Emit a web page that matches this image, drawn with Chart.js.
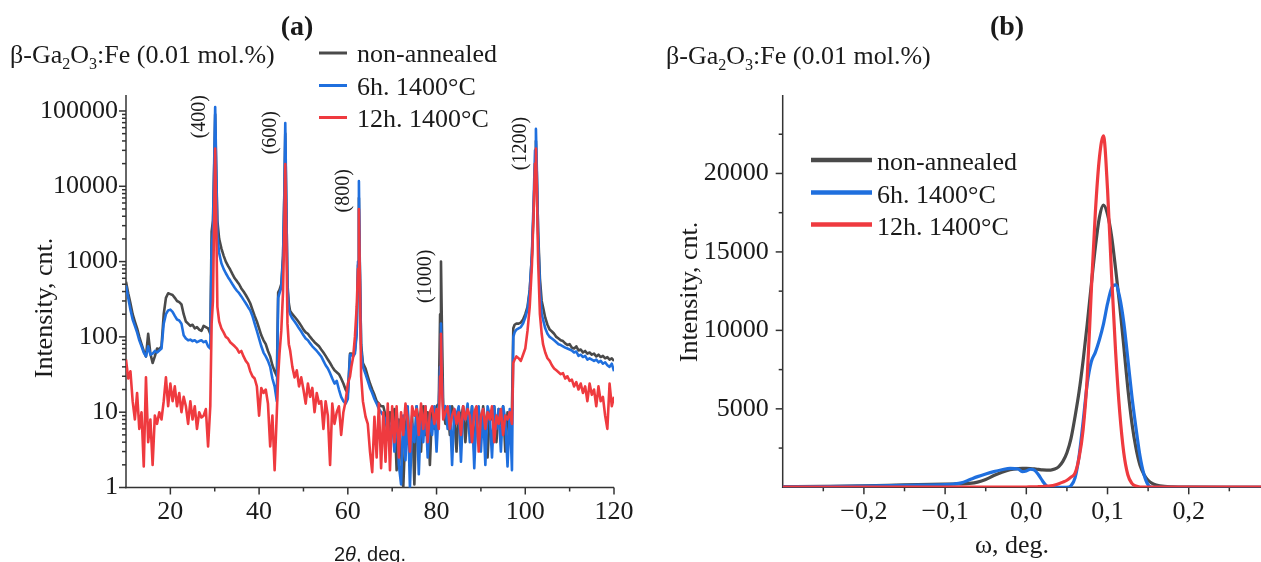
<!DOCTYPE html>
<html><head><meta charset="utf-8"><title>β-Ga2O3:Fe XRD</title>
<script src="https://cdn.jsdelivr.net/npm/chart.js@4.4.1/dist/chart.umd.min.js"></script>
<style>
html,body{margin:0;padding:0;background:#fff;}
body{width:1261px;height:562px;position:relative;overflow:hidden;}
#ca{position:absolute;left:0;top:0;}
#cb{position:absolute;left:640px;top:0;}
</style></head><body>
<canvas id="ca" width="640" height="562"></canvas>
<canvas id="cb" width="621" height="562"></canvas>
<script>
// ---------- data: panel (a) XRD 2θ scans ----------
const seriesNames = ['non-annealed', '6h. 1400°C', '12h. 1400°C'];

const twoTheta = [
 10,10.5,11,11.5,12,12.5,13,13.5,14,14.5,15,15.5,16,16.5,17,17.5,18,18.5,19,19.5,20,20.5,21,21.5,22,22.5,23,23.5,24,24.5,25,25.5,26,26.5,27,27.5,28,28.5,29,
 29.3,29.6,29.9,30.1,30.3,30.6,31,
 31.5,32,32.5,33,33.5,34,34.5,35,35.5,36,36.5,37,37.5,38,38.5,39,39.5,40,40.5,41,41.5,42,42.5,43,43.5,44,
 44.3,44.6,45,45.4,45.7,45.9,46.1,46.4,46.7,
 47,47.5,48,48.5,49,49.5,50,50.5,51,51.5,52,52.5,53,53.5,54,54.5,55,55.5,56,56.5,57,57.5,58,58.5,59,59.5,60,60.5,
 60.8,61.2,61.6,62,62.3,62.5,62.7,63,63.4,
 64,64.5,65,65.5,66,66.5,67,67.5,68,68.5,69,69.5,70,70.5,71,71.5,72,72.5,73,73.5,74,74.5,75,75.5,76,76.5,77,77.5,78,78.5,79,79.5,80,80.5,
 80.8,81,81.2,
 81.5,82,82.5,83,83.5,84,84.5,85,85.5,86,86.5,87,87.5,88,88.5,89,89.5,90,90.5,91,91.5,92,92.5,93,93.5,94,94.5,95,95.5,96,96.5,97,
 97.3,97.6,98,98.5,99,99.5,100,100.5,101,101.5,101.9,102.2,102.4,102.6,102.9,103.3,103.7,
 104,104.5,105,105.5,106,106.5,107,107.5,108,108.5,109,109.5,110,110.5,111,111.5,112,112.5,113,113.5,114,114.5,115,115.5,116,116.5,117,117.5,118,118.5,119,119.5,120
];

const xrdNonAnnealed = [
 540,380,280,200,160,130,100,80,65,55,110,60,45,55,70,68,75,200,330,380,370,360,330,300,290,270,200,160,150,140,145,130,135,125,120,140,135,130,110,
 2500,3500,20000,90000,20000,3500,2000,
 1500,1200,1000,880,780,680,600,550,500,440,400,360,320,280,230,190,160,130,105,90,80,65,55,42,35,30,
 390,420,500,1200,8000,50000,8000,500,280,
 220,200,185,170,155,140,125,115,110,100,92,85,80,75,68,62,56,50,45,40,36,34,32,28,24,20,18,60,
 60,58,65,120,900,7000,900,80,45,
 38,30,24,20,17,14,13,12,12,9,4.5,10,7,11,1.7,8,3,1.0,6,11,2.5,9,1.1,12,7,3,12,5,10,2,11,6,12,13,
 200,1000,150,
 12,7,11,5,12,9,3,11,8,12,4,10,6,12,3,9,11,5,12,7,2.5,10,8,12,4,11,7,12,3,10,6,11,
 130,145,150,150,155,170,200,250,420,1200,5000,20000,40000,15000,2500,600,300,
 250,180,145,125,118,110,100,95,90,88,82,78,80,72,70,75,66,68,62,65,60,62,58,60,55,58,54,56,52,54,50,52,48
];

const xrd6h = [
 480,330,230,170,140,115,90,75,62,55,75,58,60,65,62,66,70,150,200,225,230,215,190,170,165,150,105,95,90,92,88,90,85,88,90,85,88,75,70,
 1500,2500,25000,113000,25000,2200,1300,
 950,800,700,620,560,500,450,410,380,345,310,280,250,225,190,150,120,95,75,62,55,48,40,28,22,14,
 330,380,450,1100,9000,69300,9000,450,230,
 200,175,160,145,130,118,105,95,90,82,75,70,65,60,55,48,42,38,33,28,24,26,20,16,14,13,15,58,
 58,55,60,110,1000,11700,1000,70,40,
 32,26,21,18,15,13,11,10,9,8,6,5,8,3,11,2,1.1,9,2.3,12,1.0,7,4,12,1.5,10,4,12,2.5,9,5,12,3,12,
 40,150,30,
 11,12,6,12,2,11,9,12,2.2,11,8,13,4,12,1.8,10,12,3,11,2,12,9,2.5,12,6,11,3,12,8,1.9,11,1.7,
 100,115,125,130,135,150,180,230,400,1300,7000,30000,57800,18000,2200,450,200,
 170,130,110,100,95,90,85,80,78,75,72,70,68,66,62,64,56,58,54,56,50,52,50,48,50,46,48,44,46,42,40,44,35
];

const xrd12h = [
 50,28,35,14,8,18,6,10,1.9,29,4,8,2,9,7,10,8,14,29,12,24,14,22,12,18,10,16,12,7,14,8,12,6,10,8.5,9,11,3.5,12,
 150,300,5000,31800,5000,250,160,
 130,115,100,95,85,80,75,70,62,65,55,48,44,35,30,28,22,9,21,18,20,13,3.5,9,1.7,10,
 30,60,120,400,3000,19700,3000,150,80,
 66,40,29,36,22,29,20,13,24,16,21,10,18,13,14,6,14,9,2,13,7,10,12,5,10,14,24,30,
 40,54,100,250,800,5000,700,30,14,
 8.7,7,3,1.6,8.7,2.5,13,1.8,10,2.2,13,1.7,12,4,12,2.5,10,5,13,8,3,12,9,11,5,13,6,12,4,10,12,7,11,6,
 30,110,25,
 8,10,12,6,9,11,7,10,5,12,8,11,9,4,10,12,3,9,11,6,10,8,12,4,9,7,11,5,9,8,10,7,
 45,50,55,52,48,58,70,120,250,900,5000,20000,31600,10000,1000,200,110,
 80,62,52,48,42,38,36,34,32,33,28,30,26,27,22,25,20,24,18,22,14,24,17,20,12,22,14,16,9,6,24,12,16
];

const peakPos = [30.1, 45.9, 62.5, 81, 102.4];
const peakNames = ['(400)', '(600)', '(800)', '(1000)', '(1200)'];
const xTicksA = [20, 40, 60, 80, 100, 120];
const xMinorA = [30, 50, 70, 90, 110];
const yTicksA = [1, 10, 100, 1000, 10000, 100000];

// ---------- data: panel (b) rocking curves ----------
const omega = [
 -0.3,-0.25,-0.2,-0.15,-0.1,-0.09,-0.08,-0.07,-0.06,-0.05,-0.04,-0.03,-0.02,-0.01,-0.005,0,0.005,0.01,0.015,0.02,
 0.025,0.03,0.035,0.04,0.045,0.05,0.055,0.06,0.065,0.07,0.075,0.08,0.085,0.09,0.095,0.1,0.105,0.11,0.115,0.12,
 0.125,0.13,0.135,0.14,0.145,0.15,0.155,0.16,0.17,0.18,0.2,0.25,0.29
];
const rcNonAnnealed = [
 40,60,90,150,200,210,220,250,330,500,750,960,1120,1190,1200,1200,1190,1170,1140,1110,
 1100,1100,1160,1320,1650,2200,3100,4500,6100,8100,10400,12900,15300,17200,17980,17400,16000,13900,11600,9000,
 6300,4100,2500,1400,800,450,250,150,60,30,10,0,0
];
const rc6h = [
 30,50,80,130,180,210,280,480,680,850,1000,1120,1210,1170,1000,1040,1150,1100,800,400,
 80,0,0,0,0,0,100,600,2000,4200,6600,8000,8600,9400,10400,11700,12700,12900,12100,10500,
 8200,5800,3800,2000,800,150,0,0,0,0,0,0,0
];
const rc12h = [
 10,10,10,10,10,20,20,20,20,20,20,20,20,20,20,20,25,30,40,50,
 70,100,150,230,330,450,650,900,1900,3700,7000,12500,17500,21000,22400,19000,13500,8600,4800,2200,
 800,250,80,20,10,10,10,10,10,10,10,10,10
];
const xTicksB = [-0.2, -0.1, 0, 0.1, 0.2];
const xMinorB = [-0.25, -0.15, -0.05, 0.05, 0.15, 0.25];
const yTicksB = [5000, 10000, 15000, 20000];
const yMinorB = [2500, 7500, 12500, 17500, 22500];

// ---------- styling ----------
const GRAY = '#4a4a4a', BLUE = '#1f6fde', RED = '#ef3a3f';
const COLORS = [GRAY, BLUE, RED];
const AXIS = '#333333', TEXT = '#1a1a1a';
const SERIF = '"Liberation Serif", "Times New Roman", serif';
const SANS = '"Liberation Sans", Arial, sans-serif';

const yMinorA = [];
for (let e = 1; e <= 100000; e *= 10) for (let m = 2; m <= 9; m++) if (m * e < 163000) yMinorA.push(m * e);

function drawRuns(ctx, runs, size, family, align, bold) {
  let w = 0;
  const parts = runs.map(r => {
    const fs = r.sub ? size * 0.62 : size;
    const font = (r.italic ? 'italic ' : '') + (bold ? 'bold ' : '') + fs + 'px ' + (r.family || family);
    ctx.font = font;
    const m = ctx.measureText(r.t).width;
    w += m;
    return { r, font, m };
  });
  let cx = align === 'center' ? -w / 2 : 0;
  parts.forEach(p => {
    ctx.font = p.font;
    ctx.fillText(p.r.t, cx, p.r.sub ? size * 0.22 : 0);
    cx += p.m;
  });
}

const axisMarks = {
  id: 'axisMarks',
  beforeDatasetsDraw(chart, args, o) {
    const { ctx, chartArea: a } = chart;
    const x = chart.scales.x, y = chart.scales.y;
    ctx.save();
    ctx.strokeStyle = AXIS; ctx.lineWidth = 1.5;
    const seg = (x1, y1, x2, y2) => { ctx.beginPath(); ctx.moveTo(x1, y1); ctx.lineTo(x2, y2); ctx.stroke(); };
    seg(a.left, a.top, a.left, a.bottom + 0.75);
    seg(a.left - 0.75, a.bottom, a.right, a.bottom);
    o.xMajor.forEach(v => { const p = x.getPixelForValue(v); seg(p, a.bottom, p, a.bottom + 7); });
    o.xMinor.forEach(v => { const p = x.getPixelForValue(v); seg(p, a.bottom, p, a.bottom + 4); });
    o.yMajor.forEach(v => { const p = y.getPixelForValue(v); seg(a.left - 7, p, a.left, p); });
    o.yMinor.forEach(v => { const p = y.getPixelForValue(v); seg(a.left - 4, p, a.left, p); });
    ctx.restore();
  }
};

const textLayer = {
  id: 'textLayer',
  afterDraw(chart, args, o) {
    const ctx = chart.ctx;
    ctx.save();
    ctx.fillStyle = TEXT; ctx.textBaseline = 'alphabetic'; ctx.textAlign = 'left';
    o.items.forEach(it => {
      ctx.save();
      ctx.translate(it.x, it.y);
      if (it.rot) ctx.rotate(it.rot);
      drawRuns(ctx, it.runs, it.size, it.family || SERIF, it.align || 'left', it.bold);
      ctx.restore();
    });
    const L = o.legend;
    seriesNames.forEach((name, i) => {
      const ry = L.rows[i];
      ctx.strokeStyle = COLORS[i]; ctx.lineWidth = L.lw; ctx.lineCap = 'butt';
      ctx.beginPath(); ctx.moveTo(L.x1, ry); ctx.lineTo(L.x2, ry); ctx.stroke();
      ctx.fillStyle = TEXT; ctx.font = L.size + 'px ' + SERIF;
      ctx.fillText(name, L.tx, ry + L.dy);
    });
    ctx.restore();
  }
};

const peakLabels = {
  id: 'peakLabels',
  afterDatasetsDraw(chart) {
    const { ctx } = chart;
    const x = chart.scales.x, y = chart.scales.y;
    ctx.save();
    ctx.fillStyle = TEXT; ctx.font = '20px ' + SERIF; ctx.textAlign = 'right'; ctx.textBaseline = 'middle';
    peakPos.forEach((pos, i) => {
      const idx = twoTheta.indexOf(pos);
      const top = Math.max(xrdNonAnnealed[idx], xrd6h[idx], xrd12h[idx]);
      const px = x.getPixelForValue(pos) - 15;
      const py = y.getPixelForValue(top) - 12;
      ctx.save(); ctx.translate(px, py); ctx.rotate(-Math.PI / 2);
      ctx.fillText(peakNames[i], 0, 0);
      ctx.restore();
    });
    ctx.restore();
  }
};

const subtitleRuns = [{ t: 'β-Ga' }, { t: '2', sub: true }, { t: 'O' }, { t: '3', sub: true }, { t: ':Fe (0.01 mol.%)' }];
const tickFont = { family: SERIF, size: 26, lineHeight: 1 };
const xTickFontA = { family: SERIF, size: 26, lineHeight: 1.92 };

function ds(xs, ys, i, order, width, mono) {
  return {
    label: seriesNames[i],
    data: xs.map((v, k) => ({ x: v, y: ys[k] })),
    borderColor: COLORS[i], backgroundColor: COLORS[i],
    borderWidth: width, pointRadius: 0, borderJoinStyle: 'round',
    cubicInterpolationMode: mono ? 'monotone' : 'default', tension: 0,
    order: order, fill: false
  };
}

// ---------- panel (a) ----------
new Chart(document.getElementById('ca'), {
  type: 'line',
  data: {
    datasets: [
      ds(twoTheta, xrdNonAnnealed, 0, 2, 2.6, false),
      ds(twoTheta, xrd6h, 1, 1, 2.6, false),
      ds(twoTheta, xrd12h, 2, 0, 2.6, false)
    ]
  },
  options: {
    responsive: false, animation: false, devicePixelRatio: 1,
    layout: { padding: { left: 0, top: 95, right: 26, bottom: 0 } },
    plugins: {
      legend: { display: false }, tooltip: { enabled: false },
      axisMarks: { xMajor: xTicksA, xMinor: xMinorA, yMajor: yTicksA, yMinor: yMinorA },
      textLayer: {
        items: [
          { runs: [{ t: '(a)' }], x: 297, y: 35, size: 28, bold: true, align: 'center' },
          { runs: subtitleRuns, x: 10, y: 63, size: 26 },
          { runs: [{ t: 'Intensity, cnt.' }], x: 52, y: 308, size: 26, align: 'center', rot: -Math.PI / 2 },
          { runs: [{ t: '2' }, { t: 'θ', italic: true }, { t: ', deg.' }], x: 370, y: 561, size: 20, family: SANS, align: 'center' }
        ],
        legend: { x1: 319, x2: 347, tx: 357, rows: [53, 85.5, 117.5], dy: 9, lw: 3, size: 26 }
      }
    },
    scales: {
      x: {
        type: 'linear', min: 10, max: 120,
        afterBuildTicks: s => { s.ticks = xTicksA.map(v => ({ value: v })); },
        afterFit: s => { s.height = 74.5; },
        grid: { display: false, drawTicks: false }, border: { display: false },
        ticks: { font: xTickFontA, color: TEXT, padding: 0, maxRotation: 0, autoSkip: false, callback: v => String(v) }
      },
      y: {
        type: 'logarithmic', min: 1, max: 163000,
        afterBuildTicks: s => { s.ticks = yTicksA.map(v => ({ value: v })); },
        afterFit: s => { s.width = 126; },
        grid: { display: false, drawTicks: false }, border: { display: false },
        ticks: { font: tickFont, color: TEXT, padding: 8, autoSkip: false, callback: v => String(v) }
      }
    }
  },
  plugins: [axisMarks, peakLabels, textLayer]
});

// ---------- panel (b) ----------
const fmtB = v => (Math.abs(v) < 1e-9 ? '0,0' : v.toFixed(1).replace('.', ',').replace('-', '\u2212'));
new Chart(document.getElementById('cb'), {
  type: 'line',
  data: {
    datasets: [
      ds(omega, rcNonAnnealed, 0, 2, 3.2, true),
      ds(omega, rc6h, 1, 1, 3.2, true),
      ds(omega, rc12h, 2, 0, 3.2, true)
    ]
  },
  options: {
    responsive: false, animation: false, devicePixelRatio: 1,
    layout: { padding: { left: 0, top: 95, right: 0, bottom: 0 } },
    plugins: {
      legend: { display: false }, tooltip: { enabled: false },
      axisMarks: { xMajor: xTicksB, xMinor: xMinorB, yMajor: yTicksB, yMinor: yMinorB },
      textLayer: {
        items: [
          { runs: [{ t: '(b)' }], x: 367, y: 35, size: 28, bold: true, align: 'center' },
          { runs: subtitleRuns, x: 26, y: 64, size: 26 },
          { runs: [{ t: 'Intensity, cnt.' }], x: 57, y: 292, size: 26, align: 'center', rot: -Math.PI / 2 },
          { runs: [{ t: 'ω, deg.' }], x: 372, y: 553, size: 26, align: 'center' }
        ],
        legend: { x1: 171, x2: 232, tx: 237, rows: [160, 192.5, 224.5], dy: 10, lw: 4.5, size: 26 }
      }
    },
    scales: {
      x: {
        type: 'linear', min: -0.3, max: 0.289,
        afterBuildTicks: s => { s.ticks = xTicksB.map(v => ({ value: v })); },
        afterFit: s => { s.height = 74.7; },
        grid: { display: false, drawTicks: false }, border: { display: false },
        ticks: { font: tickFont, color: TEXT, padding: 12, maxRotation: 0, autoSkip: false, callback: v => fmtB(v) }
      },
      y: {
        type: 'linear', min: 0, max: 25000,
        afterBuildTicks: s => { s.ticks = yTicksB.map(v => ({ value: v })); },
        afterFit: s => { s.width = 142.7; },
        grid: { display: false, drawTicks: false }, border: { display: false },
        ticks: { font: tickFont, color: TEXT, padding: 14, autoSkip: false, callback: v => String(v) }
      }
    }
  },
  plugins: [axisMarks, textLayer]
});
</script>
</body></html>
